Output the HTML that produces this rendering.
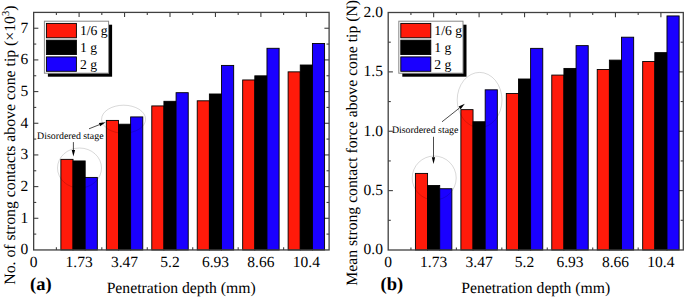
<!DOCTYPE html>
<html><head><meta charset="utf-8"><style>html,body{margin:0;padding:0;background:#fff;}svg{display:block;text-rendering:geometricPrecision;}</style></head>
<body><svg width="685" height="297" viewBox="0 0 685 297">
<rect width="685" height="297" fill="#fff"/>
<text x="28.35" y="254.35" text-anchor="end" font-family="&quot;Liberation Serif&quot;, serif" font-size="15.5">0</text>
<line x1="33.65" y1="218.28" x2="38.35" y2="218.28" stroke="#404040" stroke-width="1.1"/>
<line x1="329.1" y1="218.28" x2="324.40" y2="218.28" stroke="#404040" stroke-width="1.1"/>
<text x="28.35" y="222.68" text-anchor="end" font-family="&quot;Liberation Serif&quot;, serif" font-size="15.5">1</text>
<line x1="33.65" y1="186.60" x2="38.35" y2="186.60" stroke="#404040" stroke-width="1.1"/>
<line x1="329.1" y1="186.60" x2="324.40" y2="186.60" stroke="#404040" stroke-width="1.1"/>
<text x="28.35" y="191.00" text-anchor="end" font-family="&quot;Liberation Serif&quot;, serif" font-size="15.5">2</text>
<line x1="33.65" y1="154.93" x2="38.35" y2="154.93" stroke="#404040" stroke-width="1.1"/>
<line x1="329.1" y1="154.93" x2="324.40" y2="154.93" stroke="#404040" stroke-width="1.1"/>
<text x="28.35" y="159.33" text-anchor="end" font-family="&quot;Liberation Serif&quot;, serif" font-size="15.5">3</text>
<line x1="33.65" y1="123.26" x2="38.35" y2="123.26" stroke="#404040" stroke-width="1.1"/>
<line x1="329.1" y1="123.26" x2="324.40" y2="123.26" stroke="#404040" stroke-width="1.1"/>
<text x="28.35" y="127.66" text-anchor="end" font-family="&quot;Liberation Serif&quot;, serif" font-size="15.5">4</text>
<line x1="33.65" y1="91.58" x2="38.35" y2="91.58" stroke="#404040" stroke-width="1.1"/>
<line x1="329.1" y1="91.58" x2="324.40" y2="91.58" stroke="#404040" stroke-width="1.1"/>
<text x="28.35" y="95.98" text-anchor="end" font-family="&quot;Liberation Serif&quot;, serif" font-size="15.5">5</text>
<line x1="33.65" y1="59.91" x2="38.35" y2="59.91" stroke="#404040" stroke-width="1.1"/>
<line x1="329.1" y1="59.91" x2="324.40" y2="59.91" stroke="#404040" stroke-width="1.1"/>
<text x="28.35" y="64.31" text-anchor="end" font-family="&quot;Liberation Serif&quot;, serif" font-size="15.5">6</text>
<line x1="33.65" y1="28.24" x2="38.35" y2="28.24" stroke="#404040" stroke-width="1.1"/>
<line x1="329.1" y1="28.24" x2="324.40" y2="28.24" stroke="#404040" stroke-width="1.1"/>
<text x="28.35" y="32.64" text-anchor="end" font-family="&quot;Liberation Serif&quot;, serif" font-size="15.5">7</text>
<line x1="33.65" y1="234.11" x2="36.25" y2="234.11" stroke="#404040" stroke-width="1.1"/>
<line x1="329.1" y1="234.11" x2="326.50" y2="234.11" stroke="#404040" stroke-width="1.1"/>
<line x1="33.65" y1="202.44" x2="36.25" y2="202.44" stroke="#404040" stroke-width="1.1"/>
<line x1="329.1" y1="202.44" x2="326.50" y2="202.44" stroke="#404040" stroke-width="1.1"/>
<line x1="33.65" y1="170.77" x2="36.25" y2="170.77" stroke="#404040" stroke-width="1.1"/>
<line x1="329.1" y1="170.77" x2="326.50" y2="170.77" stroke="#404040" stroke-width="1.1"/>
<line x1="33.65" y1="139.09" x2="36.25" y2="139.09" stroke="#404040" stroke-width="1.1"/>
<line x1="329.1" y1="139.09" x2="326.50" y2="139.09" stroke="#404040" stroke-width="1.1"/>
<line x1="33.65" y1="107.42" x2="36.25" y2="107.42" stroke="#404040" stroke-width="1.1"/>
<line x1="329.1" y1="107.42" x2="326.50" y2="107.42" stroke="#404040" stroke-width="1.1"/>
<line x1="33.65" y1="75.75" x2="36.25" y2="75.75" stroke="#404040" stroke-width="1.1"/>
<line x1="329.1" y1="75.75" x2="326.50" y2="75.75" stroke="#404040" stroke-width="1.1"/>
<line x1="33.65" y1="44.07" x2="36.25" y2="44.07" stroke="#404040" stroke-width="1.1"/>
<line x1="329.1" y1="44.07" x2="326.50" y2="44.07" stroke="#404040" stroke-width="1.1"/>
<line x1="56.38" y1="249.95" x2="56.38" y2="247.35" stroke="#404040" stroke-width="1.1"/>
<line x1="56.38" y1="12.4" x2="56.38" y2="15.00" stroke="#404040" stroke-width="1.1"/>
<text x="33.65" y="266.75" text-anchor="middle" font-family="&quot;Liberation Serif&quot;, serif" font-size="15.5">0</text>
<line x1="79.10" y1="249.95" x2="79.10" y2="245.25" stroke="#404040" stroke-width="1.1"/>
<line x1="79.10" y1="12.4" x2="79.10" y2="17.10" stroke="#404040" stroke-width="1.1"/>
<line x1="101.82" y1="249.95" x2="101.82" y2="247.35" stroke="#404040" stroke-width="1.1"/>
<line x1="101.82" y1="12.4" x2="101.82" y2="15.00" stroke="#404040" stroke-width="1.1"/>
<text x="79.10" y="266.75" text-anchor="middle" font-family="&quot;Liberation Serif&quot;, serif" font-size="15.5">1.73</text>
<line x1="124.55" y1="249.95" x2="124.55" y2="245.25" stroke="#404040" stroke-width="1.1"/>
<line x1="124.55" y1="12.4" x2="124.55" y2="17.10" stroke="#404040" stroke-width="1.1"/>
<line x1="147.28" y1="249.95" x2="147.28" y2="247.35" stroke="#404040" stroke-width="1.1"/>
<line x1="147.28" y1="12.4" x2="147.28" y2="15.00" stroke="#404040" stroke-width="1.1"/>
<text x="124.55" y="266.75" text-anchor="middle" font-family="&quot;Liberation Serif&quot;, serif" font-size="15.5">3.47</text>
<line x1="170.00" y1="249.95" x2="170.00" y2="245.25" stroke="#404040" stroke-width="1.1"/>
<line x1="170.00" y1="12.4" x2="170.00" y2="17.10" stroke="#404040" stroke-width="1.1"/>
<line x1="192.73" y1="249.95" x2="192.73" y2="247.35" stroke="#404040" stroke-width="1.1"/>
<line x1="192.73" y1="12.4" x2="192.73" y2="15.00" stroke="#404040" stroke-width="1.1"/>
<text x="170.00" y="266.75" text-anchor="middle" font-family="&quot;Liberation Serif&quot;, serif" font-size="15.5">5.2</text>
<line x1="215.45" y1="249.95" x2="215.45" y2="245.25" stroke="#404040" stroke-width="1.1"/>
<line x1="215.45" y1="12.4" x2="215.45" y2="17.10" stroke="#404040" stroke-width="1.1"/>
<line x1="238.18" y1="249.95" x2="238.18" y2="247.35" stroke="#404040" stroke-width="1.1"/>
<line x1="238.18" y1="12.4" x2="238.18" y2="15.00" stroke="#404040" stroke-width="1.1"/>
<text x="215.45" y="266.75" text-anchor="middle" font-family="&quot;Liberation Serif&quot;, serif" font-size="15.5">6.93</text>
<line x1="260.90" y1="249.95" x2="260.90" y2="245.25" stroke="#404040" stroke-width="1.1"/>
<line x1="260.90" y1="12.4" x2="260.90" y2="17.10" stroke="#404040" stroke-width="1.1"/>
<line x1="283.62" y1="249.95" x2="283.62" y2="247.35" stroke="#404040" stroke-width="1.1"/>
<line x1="283.62" y1="12.4" x2="283.62" y2="15.00" stroke="#404040" stroke-width="1.1"/>
<text x="260.90" y="266.75" text-anchor="middle" font-family="&quot;Liberation Serif&quot;, serif" font-size="15.5">8.66</text>
<line x1="306.35" y1="249.95" x2="306.35" y2="245.25" stroke="#404040" stroke-width="1.1"/>
<line x1="306.35" y1="12.4" x2="306.35" y2="17.10" stroke="#404040" stroke-width="1.1"/>
<text x="306.35" y="266.75" text-anchor="middle" font-family="&quot;Liberation Serif&quot;, serif" font-size="15.5">10.4</text>
<rect x="60.87" y="159.36" width="12.15" height="90.59" fill="#ff1a0a" stroke="#000" stroke-width="0.9"/>
<rect x="73.02" y="160.95" width="12.15" height="89.00" fill="#000000" stroke="#000" stroke-width="0.9"/>
<rect x="85.17" y="177.42" width="12.15" height="72.53" fill="#1a00ff" stroke="#000" stroke-width="0.9"/>
<rect x="106.33" y="120.41" width="12.15" height="129.54" fill="#ff1a0a" stroke="#000" stroke-width="0.9"/>
<rect x="118.48" y="124.21" width="12.15" height="125.74" fill="#000000" stroke="#000" stroke-width="0.9"/>
<rect x="130.63" y="116.92" width="12.15" height="133.03" fill="#1a00ff" stroke="#000" stroke-width="0.9"/>
<rect x="151.78" y="105.93" width="12.15" height="144.02" fill="#ff1a0a" stroke="#000" stroke-width="0.9"/>
<rect x="163.93" y="101.31" width="12.15" height="148.64" fill="#000000" stroke="#000" stroke-width="0.9"/>
<rect x="176.08" y="92.69" width="12.15" height="157.26" fill="#1a00ff" stroke="#000" stroke-width="0.9"/>
<rect x="197.23" y="100.80" width="12.15" height="149.15" fill="#ff1a0a" stroke="#000" stroke-width="0.9"/>
<rect x="209.38" y="93.99" width="12.15" height="155.96" fill="#000000" stroke="#000" stroke-width="0.9"/>
<rect x="221.53" y="65.42" width="12.15" height="184.53" fill="#1a00ff" stroke="#000" stroke-width="0.9"/>
<rect x="242.67" y="79.96" width="12.15" height="169.99" fill="#ff1a0a" stroke="#000" stroke-width="0.9"/>
<rect x="254.82" y="75.84" width="12.15" height="174.11" fill="#000000" stroke="#000" stroke-width="0.9"/>
<rect x="266.97" y="48.29" width="12.15" height="201.66" fill="#1a00ff" stroke="#000" stroke-width="0.9"/>
<rect x="288.12" y="71.85" width="12.15" height="178.10" fill="#ff1a0a" stroke="#000" stroke-width="0.9"/>
<rect x="300.27" y="65.01" width="12.15" height="184.94" fill="#000000" stroke="#000" stroke-width="0.9"/>
<rect x="312.43" y="43.47" width="12.15" height="206.48" fill="#1a00ff" stroke="#000" stroke-width="0.9"/>
<rect x="33.65" y="12.4" width="295.45" height="237.55" fill="none" stroke="#404040" stroke-width="1.3"/>
<text x="106.65" y="292.7" font-family="&quot;Liberation Serif&quot;, serif" font-size="15.7">Penetration depth (mm)</text>
<text transform="translate(14.5,284.7) rotate(-90)" font-family="&quot;Liberation Serif&quot;, serif" font-size="15.75">No. of strong contacts above cone tip (×10<tspan font-size="10.5" dy="-6">3</tspan><tspan dy="6">)</tspan></text>
<text x="30.1" y="289.5" font-family="&quot;Liberation Serif&quot;, serif" font-size="18.5" font-weight="bold">(a)</text>
<text x="37.1" y="139.1" font-family="&quot;Liberation Serif&quot;, serif" font-size="9.85">Disordered stage</text>
<ellipse cx="79.5" cy="168" rx="22" ry="20" fill="none" stroke="#000" stroke-opacity="0.22" stroke-width="0.7"/>
<ellipse cx="123.6" cy="119.2" rx="22" ry="14" fill="none" stroke="#000" stroke-opacity="0.22" stroke-width="0.7"/>
<line x1="73.4" y1="142.1" x2="73.40" y2="150.00" stroke="#000" stroke-width="0.7"/>
<polygon points="73.4,156.6 71.75,150.00 75.05,150.00" fill="#000"/>
<line x1="89" y1="128.8" x2="99.47" y2="124.64" stroke="#000" stroke-width="0.7"/>
<polygon points="105.6,122.2 100.08,126.17 98.86,123.11" fill="#000"/>
<rect x="47.90" y="24.70" width="64.2" height="52.0" fill="#000"/>
<rect x="44.40" y="21.20" width="64.2" height="52.0" fill="#fff" stroke="#888" stroke-width="1"/>
<rect x="46.40" y="23.40" width="30.0" height="14.4" fill="#ff1a0a" stroke="#000" stroke-width="0.9"/>
<text x="79.90" y="35.30" font-family="&quot;Liberation Serif&quot;, serif" font-size="13.7">1/6 g</text>
<rect x="46.40" y="40.15" width="30.0" height="14.4" fill="#000000" stroke="#000" stroke-width="0.9"/>
<text x="79.90" y="52.05" font-family="&quot;Liberation Serif&quot;, serif" font-size="13.7">1 g</text>
<rect x="46.40" y="56.90" width="30.0" height="14.4" fill="#1a00ff" stroke="#000" stroke-width="0.9"/>
<text x="79.90" y="68.80" font-family="&quot;Liberation Serif&quot;, serif" font-size="13.7">2 g</text>
<text x="382.90" y="254.40" text-anchor="end" font-family="&quot;Liberation Serif&quot;, serif" font-size="15.5">0.0</text>
<line x1="388.2" y1="190.62" x2="392.90" y2="190.62" stroke="#404040" stroke-width="1.1"/>
<line x1="683.3" y1="190.62" x2="678.60" y2="190.62" stroke="#404040" stroke-width="1.1"/>
<text x="382.90" y="195.03" text-anchor="end" font-family="&quot;Liberation Serif&quot;, serif" font-size="15.5">0.5</text>
<line x1="388.2" y1="131.25" x2="392.90" y2="131.25" stroke="#404040" stroke-width="1.1"/>
<line x1="683.3" y1="131.25" x2="678.60" y2="131.25" stroke="#404040" stroke-width="1.1"/>
<text x="382.90" y="135.65" text-anchor="end" font-family="&quot;Liberation Serif&quot;, serif" font-size="15.5">1.0</text>
<line x1="388.2" y1="71.88" x2="392.90" y2="71.88" stroke="#404040" stroke-width="1.1"/>
<line x1="683.3" y1="71.88" x2="678.60" y2="71.88" stroke="#404040" stroke-width="1.1"/>
<text x="382.90" y="76.28" text-anchor="end" font-family="&quot;Liberation Serif&quot;, serif" font-size="15.5">1.5</text>
<text x="382.90" y="16.90" text-anchor="end" font-family="&quot;Liberation Serif&quot;, serif" font-size="15.5">2.0</text>
<line x1="388.2" y1="220.31" x2="390.80" y2="220.31" stroke="#404040" stroke-width="1.1"/>
<line x1="683.3" y1="220.31" x2="680.70" y2="220.31" stroke="#404040" stroke-width="1.1"/>
<line x1="388.2" y1="160.94" x2="390.80" y2="160.94" stroke="#404040" stroke-width="1.1"/>
<line x1="683.3" y1="160.94" x2="680.70" y2="160.94" stroke="#404040" stroke-width="1.1"/>
<line x1="388.2" y1="101.56" x2="390.80" y2="101.56" stroke="#404040" stroke-width="1.1"/>
<line x1="683.3" y1="101.56" x2="680.70" y2="101.56" stroke="#404040" stroke-width="1.1"/>
<line x1="388.2" y1="42.19" x2="390.80" y2="42.19" stroke="#404040" stroke-width="1.1"/>
<line x1="683.3" y1="42.19" x2="680.70" y2="42.19" stroke="#404040" stroke-width="1.1"/>
<line x1="410.93" y1="250.0" x2="410.93" y2="247.40" stroke="#404040" stroke-width="1.1"/>
<line x1="410.93" y1="12.5" x2="410.93" y2="15.10" stroke="#404040" stroke-width="1.1"/>
<text x="388.20" y="266.80" text-anchor="middle" font-family="&quot;Liberation Serif&quot;, serif" font-size="15.5">0</text>
<line x1="433.65" y1="250.0" x2="433.65" y2="245.30" stroke="#404040" stroke-width="1.1"/>
<line x1="433.65" y1="12.5" x2="433.65" y2="17.20" stroke="#404040" stroke-width="1.1"/>
<line x1="456.38" y1="250.0" x2="456.38" y2="247.40" stroke="#404040" stroke-width="1.1"/>
<line x1="456.38" y1="12.5" x2="456.38" y2="15.10" stroke="#404040" stroke-width="1.1"/>
<text x="433.65" y="266.80" text-anchor="middle" font-family="&quot;Liberation Serif&quot;, serif" font-size="15.5">1.73</text>
<line x1="479.10" y1="250.0" x2="479.10" y2="245.30" stroke="#404040" stroke-width="1.1"/>
<line x1="479.10" y1="12.5" x2="479.10" y2="17.20" stroke="#404040" stroke-width="1.1"/>
<line x1="501.83" y1="250.0" x2="501.83" y2="247.40" stroke="#404040" stroke-width="1.1"/>
<line x1="501.83" y1="12.5" x2="501.83" y2="15.10" stroke="#404040" stroke-width="1.1"/>
<text x="479.10" y="266.80" text-anchor="middle" font-family="&quot;Liberation Serif&quot;, serif" font-size="15.5">3.47</text>
<line x1="524.55" y1="250.0" x2="524.55" y2="245.30" stroke="#404040" stroke-width="1.1"/>
<line x1="524.55" y1="12.5" x2="524.55" y2="17.20" stroke="#404040" stroke-width="1.1"/>
<line x1="547.27" y1="250.0" x2="547.27" y2="247.40" stroke="#404040" stroke-width="1.1"/>
<line x1="547.27" y1="12.5" x2="547.27" y2="15.10" stroke="#404040" stroke-width="1.1"/>
<text x="524.55" y="266.80" text-anchor="middle" font-family="&quot;Liberation Serif&quot;, serif" font-size="15.5">5.2</text>
<line x1="570.00" y1="250.0" x2="570.00" y2="245.30" stroke="#404040" stroke-width="1.1"/>
<line x1="570.00" y1="12.5" x2="570.00" y2="17.20" stroke="#404040" stroke-width="1.1"/>
<line x1="592.73" y1="250.0" x2="592.73" y2="247.40" stroke="#404040" stroke-width="1.1"/>
<line x1="592.73" y1="12.5" x2="592.73" y2="15.10" stroke="#404040" stroke-width="1.1"/>
<text x="570.00" y="266.80" text-anchor="middle" font-family="&quot;Liberation Serif&quot;, serif" font-size="15.5">6.93</text>
<line x1="615.45" y1="250.0" x2="615.45" y2="245.30" stroke="#404040" stroke-width="1.1"/>
<line x1="615.45" y1="12.5" x2="615.45" y2="17.20" stroke="#404040" stroke-width="1.1"/>
<line x1="638.18" y1="250.0" x2="638.18" y2="247.40" stroke="#404040" stroke-width="1.1"/>
<line x1="638.18" y1="12.5" x2="638.18" y2="15.10" stroke="#404040" stroke-width="1.1"/>
<text x="615.45" y="266.80" text-anchor="middle" font-family="&quot;Liberation Serif&quot;, serif" font-size="15.5">8.66</text>
<line x1="660.90" y1="250.0" x2="660.90" y2="245.30" stroke="#404040" stroke-width="1.1"/>
<line x1="660.90" y1="12.5" x2="660.90" y2="17.20" stroke="#404040" stroke-width="1.1"/>
<text x="660.90" y="266.80" text-anchor="middle" font-family="&quot;Liberation Serif&quot;, serif" font-size="15.5">10.4</text>
<rect x="415.42" y="173.41" width="12.15" height="76.59" fill="#ff1a0a" stroke="#000" stroke-width="0.9"/>
<rect x="427.57" y="185.52" width="12.15" height="64.48" fill="#000000" stroke="#000" stroke-width="0.9"/>
<rect x="439.72" y="188.72" width="12.15" height="61.28" fill="#1a00ff" stroke="#000" stroke-width="0.9"/>
<rect x="460.88" y="109.64" width="12.15" height="140.36" fill="#ff1a0a" stroke="#000" stroke-width="0.9"/>
<rect x="473.02" y="121.75" width="12.15" height="128.25" fill="#000000" stroke="#000" stroke-width="0.9"/>
<rect x="485.18" y="89.81" width="12.15" height="160.19" fill="#1a00ff" stroke="#000" stroke-width="0.9"/>
<rect x="506.32" y="93.49" width="12.15" height="156.51" fill="#ff1a0a" stroke="#000" stroke-width="0.9"/>
<rect x="518.47" y="79.00" width="12.15" height="171.00" fill="#000000" stroke="#000" stroke-width="0.9"/>
<rect x="530.62" y="48.36" width="12.15" height="201.64" fill="#1a00ff" stroke="#000" stroke-width="0.9"/>
<rect x="551.77" y="75.08" width="12.15" height="174.92" fill="#ff1a0a" stroke="#000" stroke-width="0.9"/>
<rect x="563.92" y="68.43" width="12.15" height="181.57" fill="#000000" stroke="#000" stroke-width="0.9"/>
<rect x="576.07" y="45.63" width="12.15" height="204.37" fill="#1a00ff" stroke="#000" stroke-width="0.9"/>
<rect x="597.23" y="69.50" width="12.15" height="180.50" fill="#ff1a0a" stroke="#000" stroke-width="0.9"/>
<rect x="609.38" y="60.12" width="12.15" height="189.88" fill="#000000" stroke="#000" stroke-width="0.9"/>
<rect x="621.52" y="37.20" width="12.15" height="212.80" fill="#1a00ff" stroke="#000" stroke-width="0.9"/>
<rect x="642.68" y="61.54" width="12.15" height="188.46" fill="#ff1a0a" stroke="#000" stroke-width="0.9"/>
<rect x="654.83" y="52.64" width="12.15" height="197.36" fill="#000000" stroke="#000" stroke-width="0.9"/>
<rect x="666.98" y="15.94" width="12.15" height="234.06" fill="#1a00ff" stroke="#000" stroke-width="0.9"/>
<rect x="388.2" y="12.5" width="295.10" height="237.50" fill="none" stroke="#404040" stroke-width="1.3"/>
<text x="461.20" y="292.7" font-family="&quot;Liberation Serif&quot;, serif" font-size="15.7">Penetration depth (mm)</text>
<text transform="translate(357.4,285.8) rotate(-90)" font-family="&quot;Liberation Serif&quot;, serif" font-size="15.73">Mean strong contact force above cone tip (N)</text>
<text x="380.6" y="290.4" font-family="&quot;Liberation Serif&quot;, serif" font-size="18.5" font-weight="bold">(b)</text>
<text x="391.9" y="133.2" font-family="&quot;Liberation Serif&quot;, serif" font-size="9.85">Disordered stage</text>
<ellipse cx="434.2" cy="178" rx="22" ry="22" fill="none" stroke="#000" stroke-opacity="0.22" stroke-width="0.7"/>
<ellipse cx="479.6" cy="100" rx="22.4" ry="27.6" fill="none" stroke="#000" stroke-opacity="0.22" stroke-width="0.7"/>
<line x1="433.5" y1="136.8" x2="433.50" y2="157.30" stroke="#000" stroke-width="0.7"/>
<polygon points="433.5,163.9 431.85,157.30 435.15,157.30" fill="#000"/>
<line x1="442" y1="121.8" x2="459.62" y2="107.89" stroke="#000" stroke-width="0.7"/>
<polygon points="464.8,103.8 460.64,109.18 458.60,106.59" fill="#000"/>
<rect x="402.30" y="24.70" width="64.2" height="52.0" fill="#000"/>
<rect x="398.80" y="21.20" width="64.2" height="52.0" fill="#fff" stroke="#888" stroke-width="1"/>
<rect x="400.80" y="23.40" width="30.0" height="14.4" fill="#ff1a0a" stroke="#000" stroke-width="0.9"/>
<text x="434.30" y="35.30" font-family="&quot;Liberation Serif&quot;, serif" font-size="13.7">1/6 g</text>
<rect x="400.80" y="40.15" width="30.0" height="14.4" fill="#000000" stroke="#000" stroke-width="0.9"/>
<text x="434.30" y="52.05" font-family="&quot;Liberation Serif&quot;, serif" font-size="13.7">1 g</text>
<rect x="400.80" y="56.90" width="30.0" height="14.4" fill="#1a00ff" stroke="#000" stroke-width="0.9"/>
<text x="434.30" y="68.80" font-family="&quot;Liberation Serif&quot;, serif" font-size="13.7">2 g</text>
</svg></body></html>
